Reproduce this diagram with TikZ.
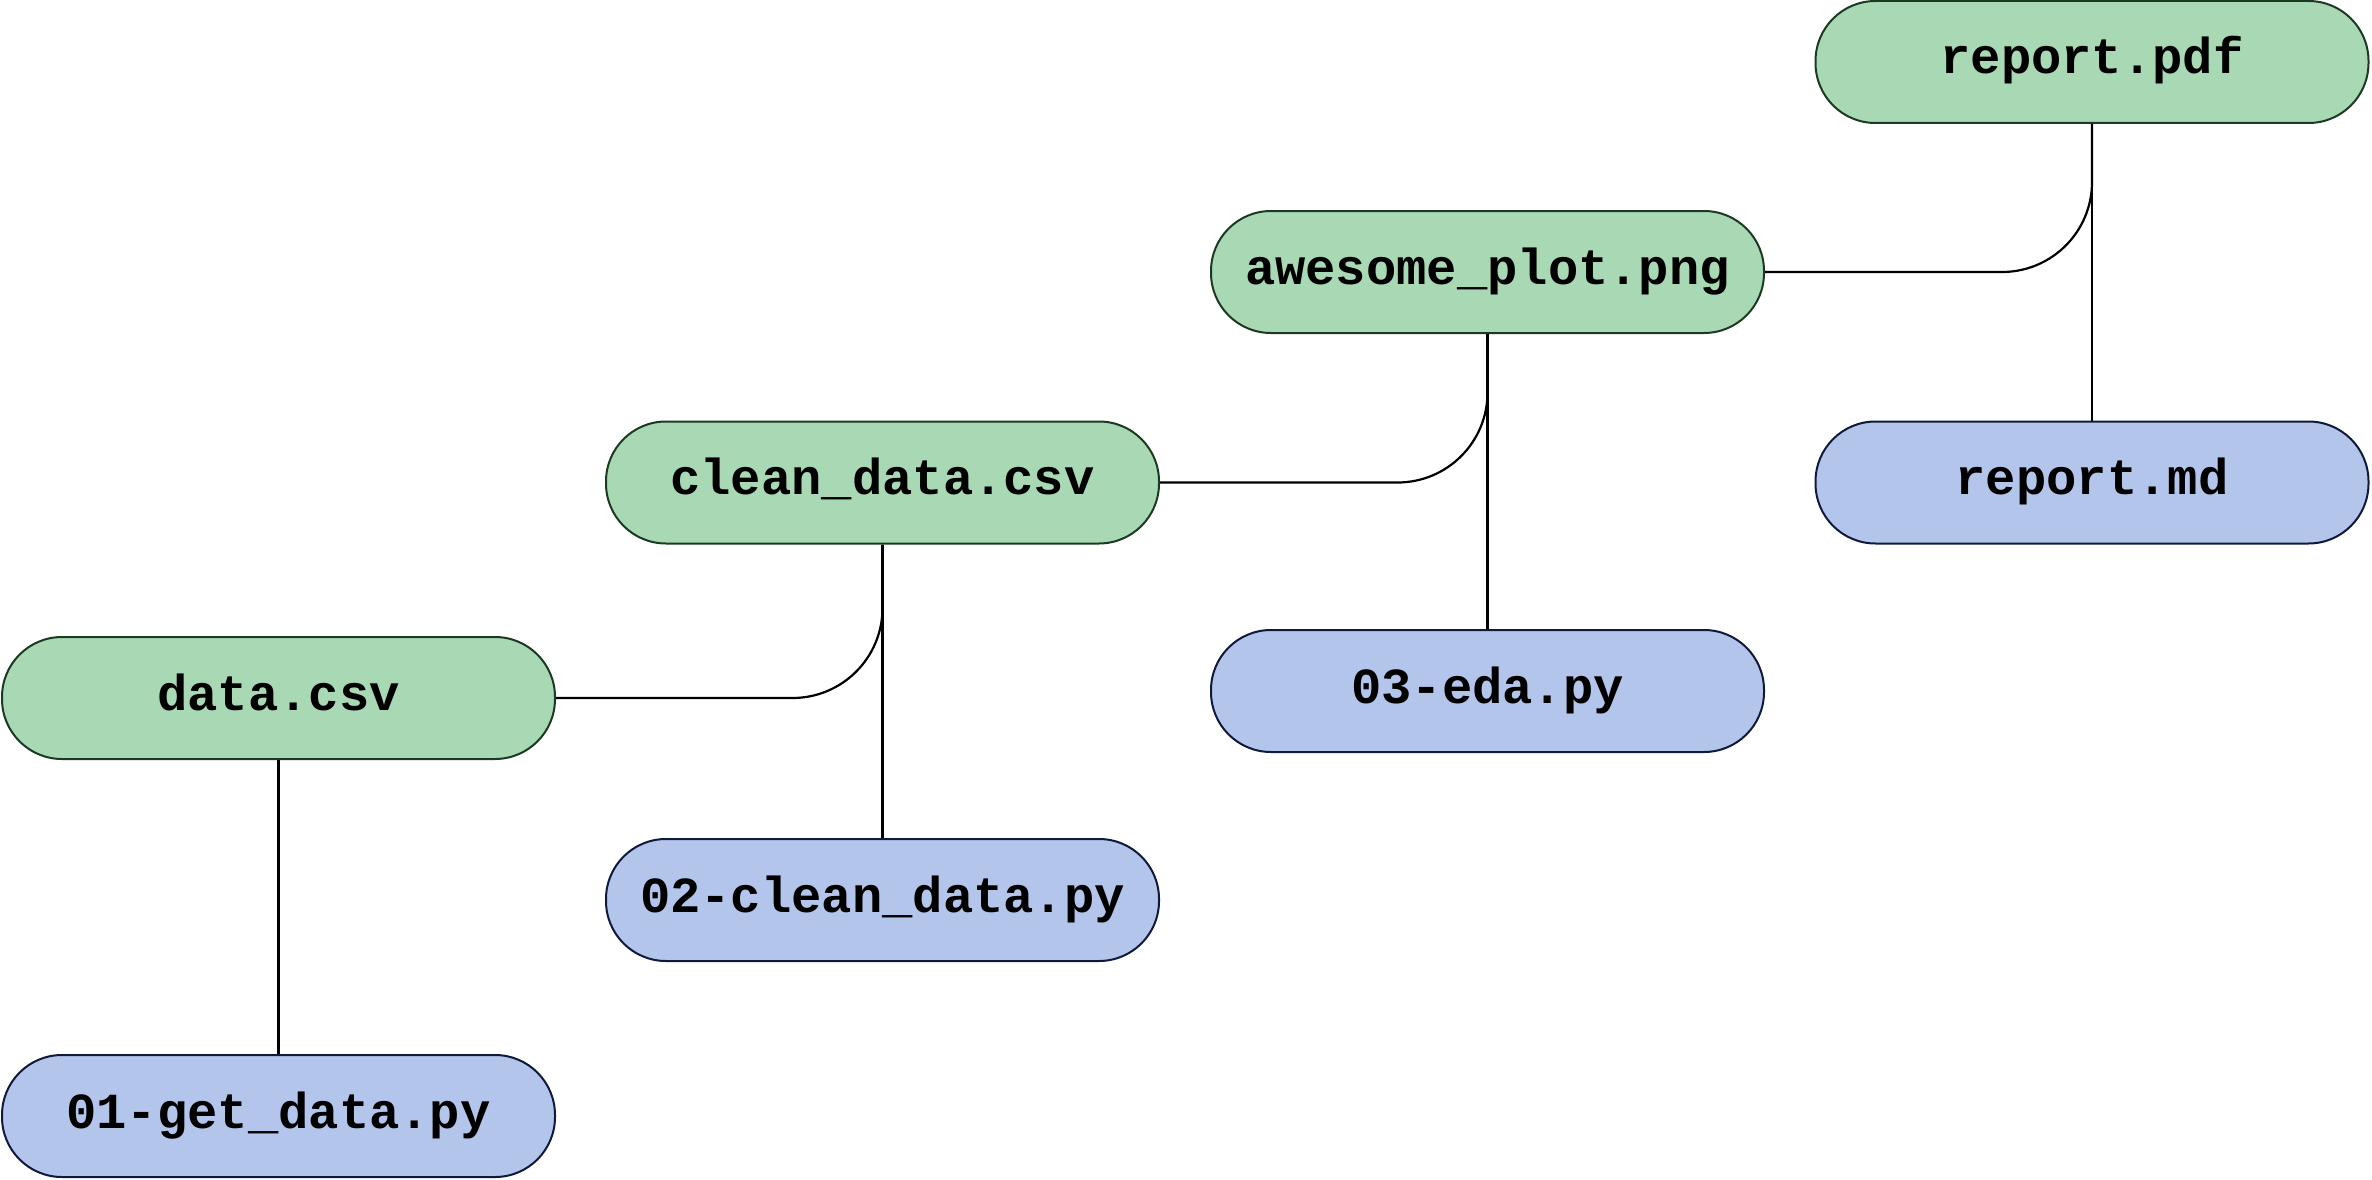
\documentclass[tikz,border=0pt]{standalone}
\usepackage{fontspec}
\newfontfamily\codefont{Liberation Mono}
\definecolor{gfill}{HTML}{A9D8B4}
\definecolor{gdraw}{HTML}{1C3A22}
\definecolor{bfill}{HTML}{B4C5EC}
\definecolor{bdraw}{HTML}{0F1A3A}
\tikzset{
  filebox/.style={rectangle, rounded corners=60pt, minimum width=553pt, minimum height=122pt,
    inner sep=0pt, line width=2pt, text height=31pt, text depth=7pt,
    font=\codefont\bfseries\fontsize{50.5pt}{60pt}\selectfont},
  datafile/.style={filebox, fill=gfill, draw=gdraw},
  codefile/.style={filebox, fill=bfill, draw=bdraw},
  conn/.style={line width=2.2pt, draw=black},
  elbowconn/.style={conn, rounded corners=90pt}
}
\begin{document}
\begin{tikzpicture}[x=1pt,y=-1pt]
\useasboundingbox (0,0) rectangle (2372,1180);
\node[datafile] (pdf)   at (2092,62)     {report.pdf};
\node[datafile] (awe)   at (1487.5,272)  {awesome\_plot.png};
\node[datafile] (clean) at (882.5,482.5) {clean\_data.csv};
\node[codefile] (md)    at (2092,482.5)  {report.md};
\node[codefile] (eda)   at (1487.5,691)  {03-eda.py};
\node[datafile] (data)  at (278.5,698)   {data.csv};
\node[codefile] (c02)   at (882.5,900)   {02-clean\_data.py};
\node[codefile] (g01)   at (278.5,1116)  {01-get\_data.py};
\draw[conn] (data.south) -- (g01.north);
\draw[conn] (c02.north) -- (clean.south);
\draw[elbowconn] (data.east) -| (clean.south);
\draw[conn] (eda.north) -- (awe.south);
\draw[elbowconn] (clean.east) -| (awe.south);
\draw[conn] (md.north) -- (pdf.south);
\draw[elbowconn] (awe.east) -| (pdf.south);
\end{tikzpicture}
\end{document}
